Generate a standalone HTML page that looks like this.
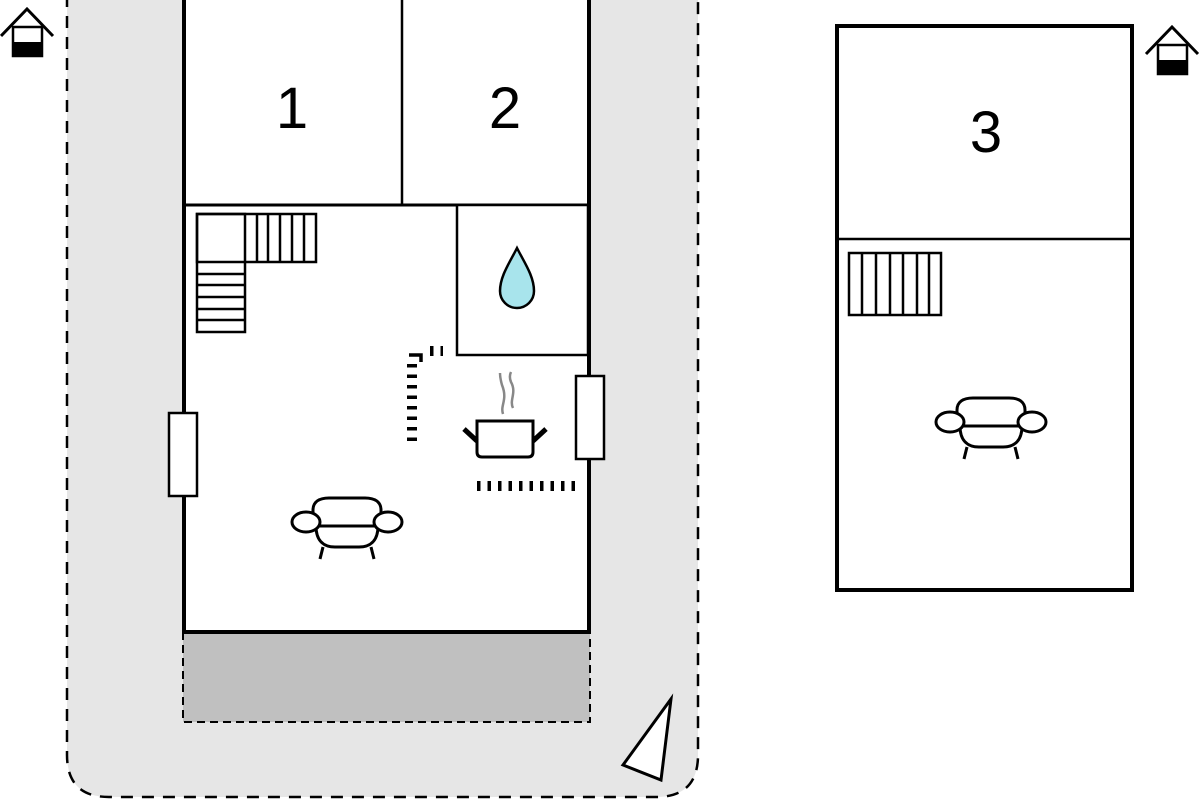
<!DOCTYPE html>
<html><head><meta charset="utf-8"><style>html,body{margin:0;padding:0;background:#fff}svg{display:block}</style></head>
<body>
<svg width="1200" height="800" viewBox="0 0 1200 800" xmlns="http://www.w3.org/2000/svg" font-family="Liberation Sans, sans-serif">
<defs>
<g id="chair" fill="#fff" stroke="#000" stroke-width="3">
<path d="M-34,4 V-12 C-34,-20 -28,-24 -18,-24 H18 C28,-24 34,-20 34,-12 V4 Z"/>
<path d="M-31,4 C-31,20 -22,25 -12,25 H12 C22,25 31,20 31,4 Z"/>
<ellipse cx="-41" cy="0" rx="14" ry="10"/>
<ellipse cx="41" cy="0" rx="14" ry="10"/>
<line x1="-24" y1="25" x2="-27" y2="37"/>
<line x1="24" y1="25" x2="27" y2="37"/>
</g>
<g id="house">
<rect x="13" y="27" width="29" height="29" fill="#fff" stroke="#000" stroke-width="2.5"/>
<rect x="13" y="42" width="29" height="15" fill="#000"/>
<path d="M1,36 L27,9 L53,36" fill="none" stroke="#000" stroke-width="3"/>
</g>
</defs>
<path d="M67,-5 V755 Q67,797 109,797 H656 Q698,797 698,755 V-5" fill="#e6e6e6" stroke="#000" stroke-width="2.5" stroke-dasharray="12,9"/>
<path d="M183,632 V722 H590 V632" fill="#c0c0c0" stroke="#000" stroke-width="2" stroke-dasharray="8,5"/>
<rect x="184" y="-5" width="405" height="637" fill="#fff" stroke="#000" stroke-width="4"/>
<line x1="184" y1="205" x2="589" y2="205" stroke="#000" stroke-width="3"/>
<line x1="402" y1="0" x2="402" y2="205" stroke="#000" stroke-width="2.5"/>
<rect x="457" y="205" width="131" height="150" fill="#fff" stroke="#000" stroke-width="2.5"/>
<path d="M517,248 C510,262 500,276 500,291 A17,17 0 0 0 534,291 C534,276 524,262 517,248 Z" fill="#a8e4ec" stroke="#000" stroke-width="2.5"/>
<text x="292" y="128" font-size="58" text-anchor="middle">1</text>
<text x="505" y="128" font-size="58" text-anchor="middle">2</text>
<g fill="none" stroke="#000" stroke-width="2.5">
<rect x="197" y="214" width="119" height="48"/>
<rect x="197" y="214" width="48" height="118"/>
<path d="M257,214V262M268,214V262M280,214V262M292,214V262M304,214V262"/>
<path d="M197,274H245M197,285H245M197,297H245M197,309H245M197,320H245"/>
</g>
<rect x="169" y="413" width="28" height="83" fill="#fff" stroke="#000" stroke-width="2.5"/>
<rect x="576" y="376" width="28" height="83" fill="#fff" stroke="#000" stroke-width="2.5"/>
<g stroke="#000">
<line x1="412" y1="364" x2="412" y2="442" stroke-dasharray="3.5,7" stroke-width="10"/>
<path d="M409,355H421V362" fill="none" stroke-width="3.5"/>
<line x1="430" y1="351" x2="443" y2="351" stroke-dasharray="3.5,7" stroke-width="10"/>
<line x1="477" y1="486" x2="582" y2="486" stroke-dasharray="3.5,7" stroke-width="10"/>
</g>
<g stroke="#000" stroke-width="3" fill="#fff">
<path d="M477,421 H533 V452 Q533,457 528,457 H482 Q477,457 477,452 Z"/>
<line x1="464" y1="429" x2="477" y2="441" stroke-width="5"/>
<line x1="546" y1="429" x2="533" y2="441" stroke-width="5"/>
</g>
<g fill="none" stroke="#888" stroke-width="2.5">
<path d="M503,414 C500,405 508,400 502,385 C500,378 500,375 500,373"/>
<path d="M513,408 C509,400 517,393 511,382 C509,377 510,374 511,372"/>
</g>
<use href="#chair" x="347" y="522"/>
<rect x="837" y="26" width="295" height="564" fill="#fff" stroke="#000" stroke-width="4"/>
<line x1="837" y1="239" x2="1132" y2="239" stroke="#000" stroke-width="2.5"/>
<text x="986" y="152" font-size="58" text-anchor="middle">3</text>
<g fill="none" stroke="#000" stroke-width="2.5">
<rect x="849" y="253" width="92" height="62"/>
<path d="M862,253V315M876,253V315M890,253V315M903,253V315M917,253V315M929,253V315"/>
</g>
<use href="#chair" x="991" y="422"/>
<use href="#house" x="0" y="0"/>
<use href="#house" x="1145" y="18"/>
<path d="M623,765 L671,699 L661,780 Z" fill="#fff" stroke="#000" stroke-width="3"/>
</svg>
</body></html>
